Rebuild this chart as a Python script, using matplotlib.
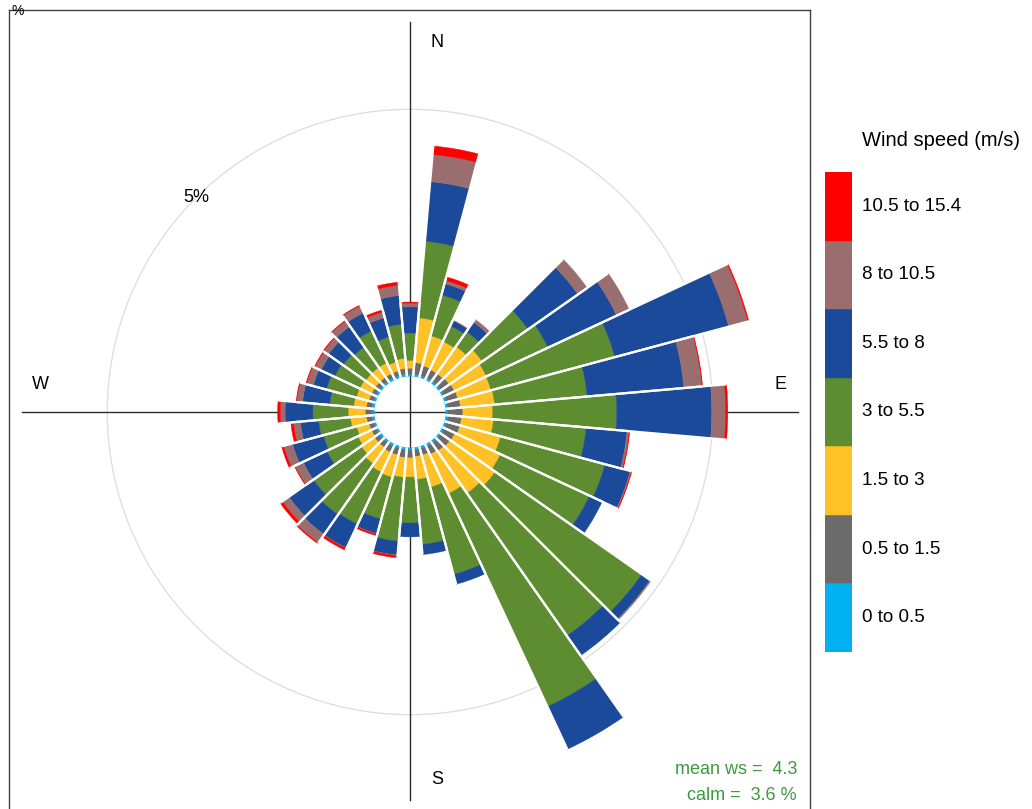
import numpy as np
import matplotlib
matplotlib.use("Agg")
import matplotlib.pyplot as plt
from matplotlib.patches import Wedge, Circle

plt.rcParams['font.family'] = ['Liberation Sans', 'DejaVu Sans']

# 10-degree sectors, direction the wind blows from (clockwise from north)
directions = list(range(10, 361, 10))

speed_labels = ["0 to 0.5", "0.5 to 1.5", "1.5 to 3", "3 to 5.5",
                "5.5 to 8", "8 to 10.5", "10.5 to 15.4"]
speed_colors = ["#00B0F0", "#6B6B6B", "#FFC125", "#5E8C31",
                "#1A4A99", "#9A6E6E", "#FF0000"]

# frequency (%) of each speed band per sector, sectors 10..360
ws_0_05 = [0.04] * 36
ws_05_15 = [0.22, 0.19, 0.17, 0.17, 0.19, 0.21, 0.22, 0.24, 0.28, 0.26, 0.26, 0.22,
            0.21, 0.19, 0.17, 0.13, 0.13, 0.15, 0.15, 0.13, 0.13, 0.11, 0.11, 0.09,
            0.09, 0.11, 0.13, 0.11, 0.09, 0.09, 0.09, 0.09, 0.09, 0.09, 0.11, 0.11]
ws_15_3 = [0.84, 0.58, 0.58, 0.62, 0.75, 0.66, 0.64, 0.64, 0.56, 0.60, 0.79, 0.94,
           1.03, 0.96, 0.81, 0.62, 0.43, 0.36, 0.37, 0.43, 0.41, 0.37, 0.30, 0.28,
           0.24, 0.30, 0.32, 0.24, 0.24, 0.24, 0.22, 0.22, 0.22, 0.17, 0.19, 0.15]
ws_3_55 = [1.44, 0.79, 0.32, 0.34, 1.05, 1.27, 2.40, 1.74, 2.32, 1.74, 2.02, 1.84,
           3.35, 3.26, 4.40, 1.69, 1.22, 0.86, 1.20, 0.81, 1.07, 1.16, 1.09, 0.64,
           0.64, 0.60, 0.66, 0.45, 0.58, 0.52, 0.51, 0.47, 0.66, 0.49, 0.64, 0.51]
ws_55_8 = [1.12, 0.22, 0.11, 0.22, 1.14, 1.42, 2.21, 1.82, 1.78, 0.77, 0.49, 0.26,
           0.19, 0.45, 0.88, 0.19, 0.19, 0.26, 0.26, 0.28, 0.49, 0.45, 0.56, 0.49,
           0.60, 0.34, 0.52, 0.51, 0.26, 0.28, 0.34, 0.47, 0.37, 0.37, 0.54, 0.49]
ws_8_105 = [0.51, 0.06, 0.01, 0.06, 0.21, 0.26, 0.37, 0.34, 0.26, 0.04, 0.02, 0.0,
            0.02, 0.0, 0.0, 0.0, 0.0, 0.0, 0.01, 0.01, 0.01, 0.19, 0.15, 0.17,
            0.17, 0.13, 0.09, 0.11, 0.13, 0.13, 0.11, 0.13, 0.15, 0.11, 0.19, 0.07]
ws_105_154 = [0.16, 0.07, 0.0, 0.0, 0.0, 0.0, 0.02, 0.01, 0.04, 0.01, 0.01, 0.0,
              0.0, 0.0, 0.0, 0.0, 0.0, 0.0, 0.04, 0.03, 0.04, 0.02, 0.05, 0.01,
              0.04, 0.05, 0.05, 0.01, 0.01, 0.01, 0.01, 0.01, 0.01, 0.04, 0.06, 0.02]

bands = [ws_0_05, ws_05_15, ws_15_3, ws_3_55, ws_55_8, ws_8_105, ws_105_154]

mean_ws = 4.3
calm_pct = 3.6
grid_pct = 5
hole = 0.67  # radius of the empty centre, in % units

fig = plt.figure(figsize=(10.32, 8.09), dpi=100)
ax = fig.add_axes([9 / 1032, -5 / 809, 801 / 1032, 804 / 809])
ax.set_xlim(-7.51, 7.49)
ax.set_ylim(-7.53, 7.53)
ax.set_xticks([])
ax.set_yticks([])
for sp in ax.spines.values():
    sp.set_color("#404040")
    sp.set_linewidth(1.0)

# grid circle and compass cross
ax.add_patch(Circle((0, 0), hole + grid_pct, fill=False, ec="#DCDCDC", lw=0.9, zorder=0.5))
ax.plot([0, 0], [-7.27, 7.30], color="#2B2B2B", lw=1.0, zorder=1)
ax.plot([-7.27, 7.27], [0, 0], color="#2B2B2B", lw=1.0, zorder=1)

# stacked sectors
for i, d in enumerate(directions):
    theta = 90 - d
    base = hole
    for k, band in enumerate(bands):
        f = band[i]
        if f <= 0:
            continue
        ax.add_patch(Wedge((0, 0), base + f, theta - 5, theta + 5, width=f,
                           facecolor=speed_colors[k], edgecolor=speed_colors[k],
                           lw=0.3, zorder=3))
        base += f
    # white gaps between neighbouring sectors
    for a in (theta - 5, theta + 5):
        ca, sa = np.cos(np.radians(a)), np.sin(np.radians(a))
        ax.plot([hole * ca, base * ca], [hole * sa, base * sa],
                color="white", lw=1.6, zorder=4, solid_capstyle="butt")

ax.text(0.51, 6.93, "N", ha="center", va="center", fontsize=13)
ax.text(0.51, -6.89, "S", ha="center", va="center", fontsize=13)
ax.text(-6.93, 0.52, "W", ha="center", va="center", fontsize=13)
ax.text(6.93, 0.52, "E", ha="center", va="center", fontsize=13)
r_lab = hole + grid_pct
ax.text(-r_lab * np.cos(np.radians(45)), r_lab * np.sin(np.radians(45)),
        "%d%%" % grid_pct, ha="center", va="center", fontsize=13)

fig.text(12 / 1032, 1 - 15 / 809, "%", ha="left", va="baseline", fontsize=10)

fig.text(797 / 1032, 1 - 770 / 809, "mean ws =  %.1f" % mean_ws,
         ha="right", va="center", color="#3C9A3C", fontsize=13)
fig.text(797 / 1032, 1 - 796 / 809, "calm =  %.1f %%" % calm_pct,
         ha="right", va="center", color="#3C9A3C", fontsize=13)

# colour key
lax = fig.add_axes([825 / 1032, (809 - 652) / 809, 27 / 1032, 480 / 809])
for k, (lab, col) in enumerate(zip(speed_labels, speed_colors)):
    lax.bar(0, 1, bottom=k, width=1, color=col, edgecolor=col, lw=0.3)
    lax.text(0.87, k + 0.5, lab, ha="left", va="center", fontsize=13.5, clip_on=False)
lax.set_xlim(-0.5, 0.5)
lax.set_ylim(0, 7)
lax.axis("off")
fig.text(862 / 1032, 1 - 140 / 809, "Wind speed (m/s)", ha="left", va="center", fontsize=14.5)

fig.savefig("out.png", dpi=100)
